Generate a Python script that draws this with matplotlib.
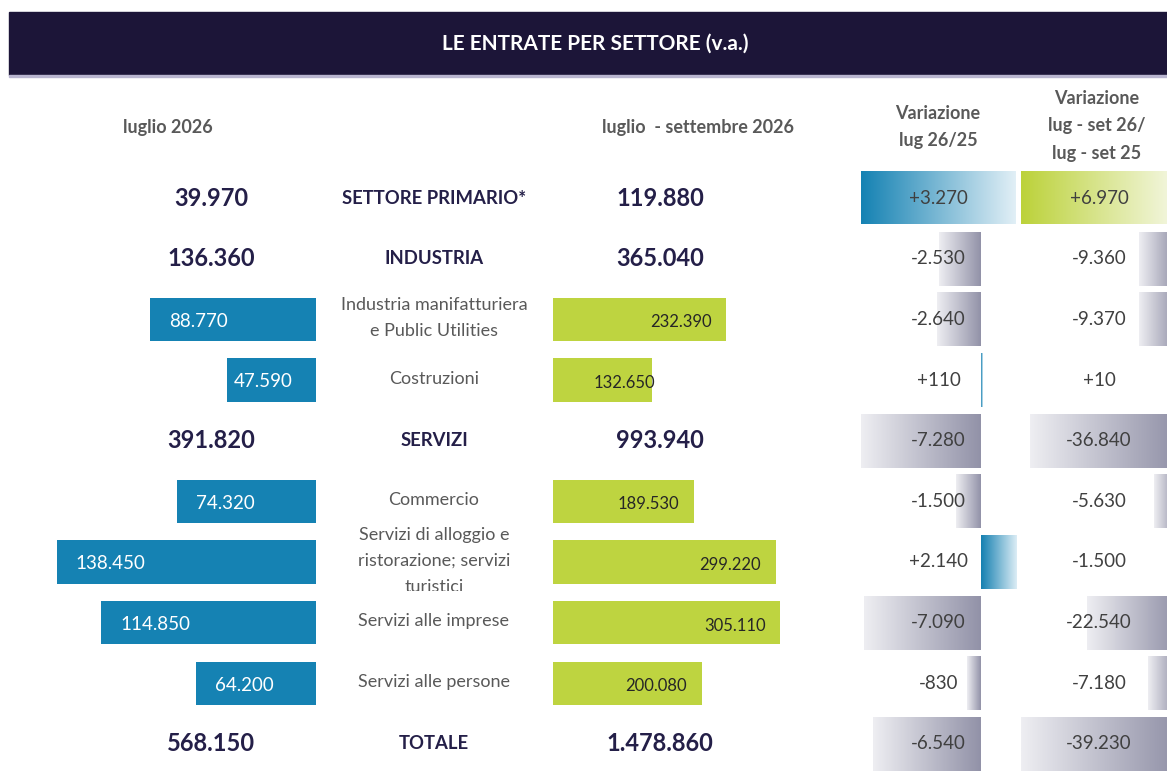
import numpy as np
import matplotlib.pyplot as plt
from matplotlib.colors import to_rgb
from matplotlib.patches import Rectangle
from matplotlib.transforms import blended_transform_factory, Bbox, TransformedBbox

plt.rcParams['font.family'] = ['Lato', 'DejaVu Sans']

categories = ["SETTORE PRIMARIO*", "INDUSTRIA",
              "Industria manifatturiera\ne Public Utilities", "Costruzioni",
              "SERVIZI", "Commercio",
              "Servizi di alloggio e\nristorazione; servizi\nturistici",
              "Servizi alle imprese", "Servizi alle persone", "TOTALE"]
is_sector = [True, True, False, False, True, False, False, False, False, True]
luglio = [39970, 136360, 88770, 47590, 391820, 74320, 138450, 114850, 64200, 568150]
lug_set = [119880, 365040, 232390, 132650, 993940, 189530, 299220, 305110, 200080, 1478860]
var_lug = [3270, -2530, -2640, 110, -7280, -1500, 2140, -7090, -830, -6540]
var_lugset = [6970, -9360, -9370, 10, -36840, -5630, -1500, -22540, -7180, -39230]

title = "LE ENTRATE PER SETTORE (v.a.)"
head_left = "luglio 2026"
head_right = "luglio  - settembre 2026"
head_var1 = "Variazione\nlug 26/25"
head_var2 = "Variazione\nlug - set 26/\nlug - set 25"

NAVY = "#1c1538"
DARK = "#241f48"
GREY_TXT = "#595959"
BLUE = "#1582b3"
GREEN = "#bed440"

W, H = 1167, 771
fig = plt.figure(figsize=(W / 100, H / 100), dpi=100)
n = len(categories)


def fmt(v, sign=False):
    s = f"{v:+,}" if sign else f"{v:,}"
    return s.replace(",", ".")


def px_axes(x0, x1, y0=167.7, y1=774.3):
    ax = fig.add_axes([x0 / W, 1 - y1 / H, (x1 - x0) / W, (y1 - y0) / H])
    ax.set_ylim(n - 0.5, -0.5)
    ax.axis('off')
    ax.patch.set_alpha(0)
    return ax


def gradient(ax, x0, x1, yc, h, c0, c1):
    # colour c0 at x0, c1 at x1
    if x0 > x1:
        x0, x1, c0, c1 = x1, x0, c1, c0
    t = np.linspace(0, 1, 128)[:, None]
    rgb = (1 - t) * np.array(to_rgb(c0)) + t * np.array(to_rgb(c1))
    ax.imshow(rgb[None, :, :], extent=(x0, x1, yc + h / 2, yc - h / 2),
              aspect='auto', interpolation='bilinear', zorder=1)


# header band
fig.patches.append(Rectangle((9 / W, 1 - 75 / H), 1 - 9 / W, 63 / H,
                             transform=fig.transFigure, color=NAVY, zorder=0))
fig.patches.append(Rectangle((9 / W, 1 - 76.5 / H), 1 - 9 / W, 1.5 / H,
                             transform=fig.transFigure, color="#b9b5d0", zorder=0))
fig.text(595 / W, 1 - 44 / H, title, color="white", fontsize=15, fontweight='bold',
         ha='center', va='center')

# column headers
hdr = dict(color=GREY_TXT, fontsize=13, fontweight='bold', ha='center', va='center',
           linespacing=1.75)
fig.text(168 / W, 1 - 127 / H, head_left, **hdr)
fig.text(698 / W, 1 - 127 / H, head_right, **hdr)
fig.text(938 / W, 1 - 127 / H, head_var1, **hdr)
fig.text(1097 / W, 1 - 126 / H, head_var2, **hdr)

# left bars: luglio 2026 (sub-sectors only)
axL = px_axes(0, 315.7)
sub = [i for i in range(n) if not is_sector[i]]
lmax = max(luglio[i] for i in sub) * 1.22
axL.set_xlim(lmax, 0)
uL = lmax / 315.7
axL.barh(sub, [luglio[i] for i in sub], height=0.71, color=BLUE, zorder=2)
for i in sub:
    xl = max(luglio[i] - 19 * uL, 82 * uL)
    axL.text(xl, i + 0.03, fmt(luglio[i]), color="white", fontsize=13.5,
             ha='left', va='center', zorder=3)

# right bars: luglio - settembre 2026
axR = px_axes(553.3, 860)
rmax = max(lug_set[i] for i in sub) * 1.35
axR.set_xlim(0, rmax)
uR = rmax / (860 - 553.3)
axR.barh(sub, [lug_set[i] for i in sub], height=0.71, color=GREEN, zorder=2)
for i in sub:
    xr = max(lug_set[i] - 15 * uR, 101.7 * uR)
    axR.text(xr, i + 0.05, fmt(lug_set[i]), color="#262626", fontsize=12,
             ha='right', va='center', zorder=3)

# sector totals and category labels
tL = blended_transform_factory(fig.transFigure, axL.transData)
for i in range(n):
    if is_sector[i]:
        axL.text(211 / W, i, fmt(luglio[i]), transform=tL, color=DARK, fontsize=17,
                 fontweight='bold', ha='center', va='center')
        axL.text(660 / W, i, fmt(lug_set[i]), transform=tL, color=DARK, fontsize=17,
                 fontweight='bold', ha='center', va='center')
        axL.text(434 / W, i, categories[i], transform=tL, color=DARK, fontsize=13.3,
                 fontweight='bold', ha='center', va='center')
    else:
        t = axL.text(434 / W, i - 0.02, categories[i], transform=tL, color=GREY_TXT,
                     fontsize=13, ha='center', va='center', linespacing=1.75,
                     clip_on=True)
        t.set_clip_box(TransformedBbox(Bbox([[0, i - 0.62], [1, i + 0.47]]), tL))


def variation(ax, vals, first_c0, first_c1, pos_c, neg_c):
    lo, hi = min(vals[1:]), max(vals[1:])
    # first row: full-cell gradient
    gradient(ax, lo, hi, 0, 0.86, first_c0, first_c1)
    for i in range(1, n):
        v = vals[i]
        if v >= 0:
            gradient(ax, 0, v, i, 0.89, pos_c, "#dcedf5")
        else:
            gradient(ax, 0, v, i, 0.89, neg_c, "#eeeef2")
    ax.set_xlim(lo, hi)
    ax.set_ylim(n - 0.5, -0.5)


axV1 = px_axes(861, 1016)
variation(axV1, var_lug, BLUE, "#e1eff6", "#1580b1", "#9292a8")
axV2 = px_axes(1021, 1176)
variation(axV2, var_lugset, "#bcd23a", "#f4f7e2", "#1580b1", "#9292a8")

tV1 = blended_transform_factory(fig.transFigure, axV1.transData)
tV2 = blended_transform_factory(fig.transFigure, axV2.transData)
for i in range(n):
    axV1.text(938.5 / W, i, fmt(var_lug[i], sign=True), transform=tV1, color="#404040",
              fontsize=13.5, ha='center', va='center', zorder=5)
    axV2.text(1099 / W, i, fmt(var_lugset[i], sign=True), transform=tV2, color="#404040",
              fontsize=13.5, ha='center', va='center', zorder=5, clip_on=False)

fig.savefig("out.png", dpi=100)
